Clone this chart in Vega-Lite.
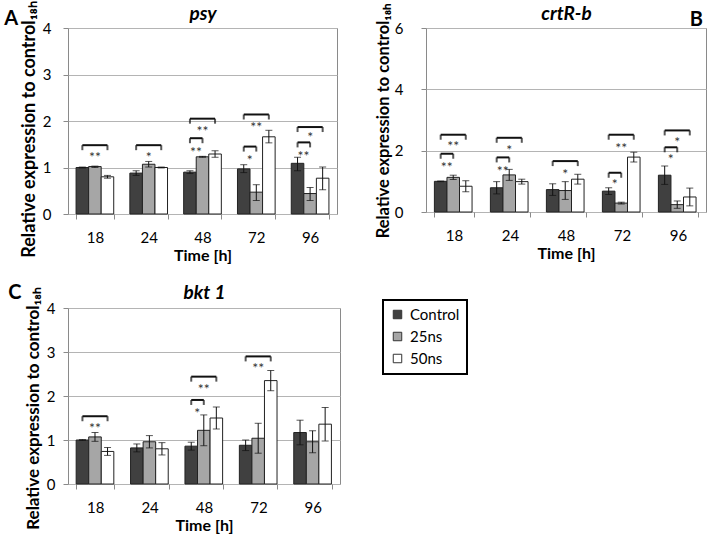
{
  "$schema": "https://vega.github.io/schema/vega-lite/v6.json",
  "padding": {"left": 3, "top": 0, "right": 0, "bottom": 0},
  "datasets": {
    "bars": [
      {"gene": "psy", "time": "18", "group": "Control", "mean": 1.00, "lo": 0.99, "hi": 1.01},
      {"gene": "psy", "time": "18", "group": "25ns", "mean": 1.02, "lo": 1.00, "hi": 1.03},
      {"gene": "psy", "time": "18", "group": "50ns", "mean": 0.80, "lo": 0.77, "hi": 0.83},
      {"gene": "psy", "time": "24", "group": "Control", "mean": 0.88, "lo": 0.83, "hi": 0.93},
      {"gene": "psy", "time": "24", "group": "25ns", "mean": 1.07, "lo": 1.01, "hi": 1.13},
      {"gene": "psy", "time": "24", "group": "50ns", "mean": 1.00, "lo": 0.99, "hi": 1.01},
      {"gene": "psy", "time": "48", "group": "Control", "mean": 0.90, "lo": 0.87, "hi": 0.93},
      {"gene": "psy", "time": "48", "group": "25ns", "mean": 1.23, "lo": 1.22, "hi": 1.24},
      {"gene": "psy", "time": "48", "group": "50ns", "mean": 1.29, "lo": 1.22, "hi": 1.36},
      {"gene": "psy", "time": "72", "group": "Control", "mean": 0.97, "lo": 0.89, "hi": 1.06},
      {"gene": "psy", "time": "72", "group": "25ns", "mean": 0.47, "lo": 0.29, "hi": 0.63},
      {"gene": "psy", "time": "72", "group": "50ns", "mean": 1.66, "lo": 1.53, "hi": 1.80},
      {"gene": "psy", "time": "96", "group": "Control", "mean": 1.09, "lo": 0.93, "hi": 1.22},
      {"gene": "psy", "time": "96", "group": "25ns", "mean": 0.44, "lo": 0.29, "hi": 0.57},
      {"gene": "psy", "time": "96", "group": "50ns", "mean": 0.77, "lo": 0.52, "hi": 1.01},
      {"gene": "crtR-b", "time": "18", "group": "Control", "mean": 1.00, "lo": 0.99, "hi": 1.01},
      {"gene": "crtR-b", "time": "18", "group": "25ns", "mean": 1.13, "lo": 1.06, "hi": 1.20},
      {"gene": "crtR-b", "time": "18", "group": "50ns", "mean": 0.84, "lo": 0.66, "hi": 1.02},
      {"gene": "crtR-b", "time": "24", "group": "Control", "mean": 0.79, "lo": 0.59, "hi": 0.99},
      {"gene": "crtR-b", "time": "24", "group": "25ns", "mean": 1.21, "lo": 1.03, "hi": 1.39},
      {"gene": "crtR-b", "time": "24", "group": "50ns", "mean": 0.99, "lo": 0.91, "hi": 1.07},
      {"gene": "crtR-b", "time": "48", "group": "Control", "mean": 0.73, "lo": 0.54, "hi": 0.92},
      {"gene": "crtR-b", "time": "48", "group": "25ns", "mean": 0.70, "lo": 0.41, "hi": 0.99},
      {"gene": "crtR-b", "time": "48", "group": "50ns", "mean": 1.07, "lo": 0.91, "hi": 1.23},
      {"gene": "crtR-b", "time": "72", "group": "Control", "mean": 0.68, "lo": 0.57, "hi": 0.79},
      {"gene": "crtR-b", "time": "72", "group": "25ns", "mean": 0.29, "lo": 0.26, "hi": 0.32},
      {"gene": "crtR-b", "time": "72", "group": "50ns", "mean": 1.79, "lo": 1.63, "hi": 1.95},
      {"gene": "crtR-b", "time": "96", "group": "Control", "mean": 1.20, "lo": 0.90, "hi": 1.50},
      {"gene": "crtR-b", "time": "96", "group": "25ns", "mean": 0.24, "lo": 0.12, "hi": 0.36},
      {"gene": "crtR-b", "time": "96", "group": "50ns", "mean": 0.49, "lo": 0.20, "hi": 0.78},
      {"gene": "bkt 1", "time": "18", "group": "Control", "mean": 1.00, "lo": 0.99, "hi": 1.01},
      {"gene": "bkt 1", "time": "18", "group": "25ns", "mean": 1.07, "lo": 0.97, "hi": 1.17},
      {"gene": "bkt 1", "time": "18", "group": "50ns", "mean": 0.74, "lo": 0.65, "hi": 0.83},
      {"gene": "bkt 1", "time": "24", "group": "Control", "mean": 0.82, "lo": 0.73, "hi": 0.91},
      {"gene": "bkt 1", "time": "24", "group": "25ns", "mean": 0.96, "lo": 0.82, "hi": 1.10},
      {"gene": "bkt 1", "time": "24", "group": "50ns", "mean": 0.80, "lo": 0.66, "hi": 0.94},
      {"gene": "bkt 1", "time": "48", "group": "Control", "mean": 0.86, "lo": 0.77, "hi": 0.95},
      {"gene": "bkt 1", "time": "48", "group": "25ns", "mean": 1.22, "lo": 0.87, "hi": 1.57},
      {"gene": "bkt 1", "time": "48", "group": "50ns", "mean": 1.50, "lo": 1.25, "hi": 1.75},
      {"gene": "bkt 1", "time": "72", "group": "Control", "mean": 0.88, "lo": 0.76, "hi": 1.00},
      {"gene": "bkt 1", "time": "72", "group": "25ns", "mean": 1.04, "lo": 0.70, "hi": 1.38},
      {"gene": "bkt 1", "time": "72", "group": "50ns", "mean": 2.35, "lo": 2.12, "hi": 2.58},
      {"gene": "bkt 1", "time": "96", "group": "Control", "mean": 1.17, "lo": 0.89, "hi": 1.45},
      {"gene": "bkt 1", "time": "96", "group": "25ns", "mean": 0.96, "lo": 0.71, "hi": 1.21},
      {"gene": "bkt 1", "time": "96", "group": "50ns", "mean": 1.36, "lo": 0.98, "hi": 1.74}
    ],
    "brackets": [
      {"gene": "psy", "time": "18", "id": "p1", "group": "Control", "y": 1.48},
      {"gene": "psy", "time": "18", "id": "p1", "group": "50ns", "y": 1.48},
      {"gene": "psy", "time": "24", "id": "p2", "group": "Control", "y": 1.48},
      {"gene": "psy", "time": "24", "id": "p2", "group": "50ns", "y": 1.48},
      {"gene": "psy", "time": "48", "id": "p3", "group": "Control", "y": 1.63},
      {"gene": "psy", "time": "48", "id": "p3", "group": "25ns", "y": 1.63},
      {"gene": "psy", "time": "48", "id": "p4", "group": "Control", "y": 2.05},
      {"gene": "psy", "time": "48", "id": "p4", "group": "50ns", "y": 2.05},
      {"gene": "psy", "time": "72", "id": "p5", "group": "Control", "y": 1.45},
      {"gene": "psy", "time": "72", "id": "p5", "group": "25ns", "y": 1.45},
      {"gene": "psy", "time": "72", "id": "p6", "group": "Control", "y": 2.14},
      {"gene": "psy", "time": "72", "id": "p6", "group": "50ns", "y": 2.14},
      {"gene": "psy", "time": "96", "id": "p7", "group": "Control", "y": 1.54},
      {"gene": "psy", "time": "96", "id": "p7", "group": "25ns", "y": 1.54},
      {"gene": "psy", "time": "96", "id": "p8", "group": "Control", "y": 1.87},
      {"gene": "psy", "time": "96", "id": "p8", "group": "50ns", "y": 1.87},
      {"gene": "crtR-b", "time": "18", "id": "c1", "group": "Control", "y": 1.90},
      {"gene": "crtR-b", "time": "18", "id": "c1", "group": "25ns", "y": 1.90},
      {"gene": "crtR-b", "time": "18", "id": "c2", "group": "Control", "y": 2.52},
      {"gene": "crtR-b", "time": "18", "id": "c2", "group": "50ns", "y": 2.52},
      {"gene": "crtR-b", "time": "24", "id": "c3", "group": "Control", "y": 1.78},
      {"gene": "crtR-b", "time": "24", "id": "c3", "group": "25ns", "y": 1.78},
      {"gene": "crtR-b", "time": "24", "id": "c4", "group": "Control", "y": 2.42},
      {"gene": "crtR-b", "time": "24", "id": "c4", "group": "50ns", "y": 2.42},
      {"gene": "crtR-b", "time": "48", "id": "c5", "group": "Control", "y": 1.66},
      {"gene": "crtR-b", "time": "48", "id": "c5", "group": "50ns", "y": 1.66},
      {"gene": "crtR-b", "time": "72", "id": "c6", "group": "Control", "y": 1.28},
      {"gene": "crtR-b", "time": "72", "id": "c6", "group": "25ns", "y": 1.28},
      {"gene": "crtR-b", "time": "72", "id": "c7", "group": "Control", "y": 2.52},
      {"gene": "crtR-b", "time": "72", "id": "c7", "group": "50ns", "y": 2.52},
      {"gene": "crtR-b", "time": "96", "id": "c8", "group": "Control", "y": 2.11},
      {"gene": "crtR-b", "time": "96", "id": "c8", "group": "25ns", "y": 2.11},
      {"gene": "crtR-b", "time": "96", "id": "c9", "group": "Control", "y": 2.66},
      {"gene": "crtR-b", "time": "96", "id": "c9", "group": "50ns", "y": 2.66},
      {"gene": "bkt 1", "time": "18", "id": "b1", "group": "Control", "y": 1.54},
      {"gene": "bkt 1", "time": "18", "id": "b1", "group": "50ns", "y": 1.54},
      {"gene": "bkt 1", "time": "48", "id": "b2", "group": "Control", "y": 1.91},
      {"gene": "bkt 1", "time": "48", "id": "b2", "group": "25ns", "y": 1.91},
      {"gene": "bkt 1", "time": "48", "id": "b3", "group": "Control", "y": 2.44},
      {"gene": "bkt 1", "time": "48", "id": "b3", "group": "50ns", "y": 2.44},
      {"gene": "bkt 1", "time": "72", "id": "b4", "group": "Control", "y": 2.90},
      {"gene": "bkt 1", "time": "72", "id": "b4", "group": "50ns", "y": 2.90}
    ],
    "stars": [
      {"gene": "psy", "time": "18", "label": "**", "y": 1.30, "kind": "mid", "at": "25ns"},
      {"gene": "psy", "time": "24", "label": "*", "y": 1.30, "kind": "mid", "at": "25ns"},
      {"gene": "psy", "time": "48", "label": "**", "y": 1.40, "kind": "edge", "at": "Control"},
      {"gene": "psy", "time": "48", "label": "**", "y": 1.85, "kind": "mid", "at": "25ns"},
      {"gene": "psy", "time": "72", "label": "*", "y": 1.23, "kind": "edge", "at": "Control"},
      {"gene": "psy", "time": "72", "label": "**", "y": 1.93, "kind": "mid", "at": "25ns"},
      {"gene": "psy", "time": "96", "label": "**", "y": 1.31, "kind": "edge", "at": "Control"},
      {"gene": "psy", "time": "96", "label": "*", "y": 1.71, "kind": "mid", "at": "25ns"},
      {"gene": "crtR-b", "time": "18", "label": "**", "y": 2.26, "kind": "mid", "at": "25ns"},
      {"gene": "crtR-b", "time": "18", "label": "**", "y": 1.57, "kind": "edge", "at": "Control"},
      {"gene": "crtR-b", "time": "24", "label": "*", "y": 2.11, "kind": "mid", "at": "25ns"},
      {"gene": "crtR-b", "time": "24", "label": "**", "y": 1.45, "kind": "edge", "at": "Control"},
      {"gene": "crtR-b", "time": "48", "label": "*", "y": 1.34, "kind": "mid", "at": "25ns"},
      {"gene": "crtR-b", "time": "72", "label": "**", "y": 2.20, "kind": "mid", "at": "25ns"},
      {"gene": "crtR-b", "time": "72", "label": "*", "y": 1.00, "kind": "edge", "at": "Control"},
      {"gene": "crtR-b", "time": "96", "label": "*", "y": 2.39, "kind": "mid", "at": "25ns"},
      {"gene": "crtR-b", "time": "96", "label": "*", "y": 1.82, "kind": "edge", "at": "Control"},
      {"gene": "bkt 1", "time": "18", "label": "**", "y": 1.35, "kind": "mid", "at": "25ns"},
      {"gene": "bkt 1", "time": "48", "label": "*", "y": 1.69, "kind": "edge", "at": "Control"},
      {"gene": "bkt 1", "time": "48", "label": "**", "y": 2.22, "kind": "mid", "at": "25ns"},
      {"gene": "bkt 1", "time": "72", "label": "**", "y": 2.71, "kind": "mid", "at": "25ns"}
    ]
  },
  "vconcat": [
    {
      "hconcat": [
        {
          "width": 269, "height": 186,
          "title": {"text": "A", "anchor": "start", "frame": "bounds", "offset": -28, "dx": -16},
          "resolve": {"axis": {"x": "independent"}},
          "layer": [
            {
              "data": {"name": "bars"},
              "transform": [{"filter": "datum.gene === 'psy'"}],
              "encoding": {
                "x": {"field": "time", "type": "nominal", "scale": {"domain": ["18", "24", "48", "72", "96"], "paddingInner": 0.3, "paddingOuter": 0.15}, "axis": {"title": "Time [h]"}},
                "xOffset": {"field": "group", "type": "nominal", "scale": {"domain": ["Control", "25ns", "50ns"], "paddingInner": 0, "paddingOuter": 0}}
              },
              "layer": [
                {"mark": {"type": "bar", "stroke": "#222", "strokeWidth": 1},
                 "encoding": {
                   "y": {"field": "mean", "type": "quantitative", "scale": {"domain": [0, 4]}, "axis": {"values": [0, 1, 2, 3, 4], "title": "Relative expression to control₁₈ₕ", "labelPadding": 12, "titlePadding": 4, "titleFontSize": 18, "titleY": 101}},
                   "color": {"field": "group", "type": "nominal", "scale": {"domain": ["Control", "25ns", "50ns"], "range": ["#404040", "#a6a6a6", "#ffffff"]}, "legend": {"title": null, "orient": "none", "legendX": 315, "legendY": 272}}
                 }},
                {"mark": {"type": "rule", "color": "#111", "strokeWidth": 1}, "encoding": {"y": {"field": "lo", "type": "quantitative"}, "y2": {"field": "hi"}}},
                {"mark": {"type": "tick", "color": "#111", "size": 7, "thickness": 1}, "encoding": {"y": {"field": "lo", "type": "quantitative"}}},
                {"mark": {"type": "tick", "color": "#111", "size": 7, "thickness": 1}, "encoding": {"y": {"field": "hi", "type": "quantitative"}}}
              ]
            },
            {
              "data": {"name": "brackets"},
              "transform": [{"filter": "datum.gene === 'psy'"}],
              "encoding": {
                "x": {"field": "time", "type": "nominal", "axis": {"orient": "top", "title": "psy", "labels": false, "ticks": false, "domain": false, "titleFontStyle": "italic", "titleFontSize": 19, "titlePadding": 5}},
                "xOffset": {"field": "group", "type": "nominal"},
                "y": {"field": "y", "type": "quantitative"}
              },
              "layer": [
                {"mark": {"type": "line", "color": "#111", "strokeWidth": 2}, "encoding": {"detail": {"field": "id"}}},
                {"mark": {"type": "tick", "orient": "vertical", "color": "#111", "thickness": 2, "size": 5, "yOffset": 2.5}}
              ]
            },
            {
              "data": {"name": "stars"},
              "transform": [{"filter": "datum.gene === 'psy'"}],
              "encoding": {
                "x": {"field": "time", "type": "nominal", "axis": null},
                "xOffset": {"field": "at", "type": "nominal"},
                "y": {"field": "y", "type": "quantitative"},
                "text": {"field": "label"}
              },
              "layer": [
                {"transform": [{"filter": "datum.kind === 'mid'"}], "mark": {"type": "text", "fontSize": 14, "dy": 4, "color": "#333"}},
                {"transform": [{"filter": "datum.kind === 'edge'"}], "mark": {"type": "text", "fontSize": 14, "dy": 4, "dx": 6, "color": "#333"}}
              ]
            }
          ]
        },
        {
          "width": 280, "height": 184,
          "title": {"text": "B", "anchor": "end", "frame": "bounds", "offset": -28, "dx": -3},
          "resolve": {"axis": {"x": "independent"}},
          "layer": [
            {
              "data": {"name": "bars"},
              "transform": [{"filter": "datum.gene === 'crtR-b'"}],
              "encoding": {
                "x": {"field": "time", "type": "nominal", "scale": {"domain": ["18", "24", "48", "72", "96"], "paddingInner": 0.3, "paddingOuter": 0.15}, "axis": {"title": "Time [h]"}},
                "xOffset": {"field": "group", "type": "nominal", "scale": {"domain": ["Control", "25ns", "50ns"], "paddingInner": 0, "paddingOuter": 0}}
              },
              "layer": [
                {"mark": {"type": "bar", "stroke": "#222", "strokeWidth": 1},
                 "encoding": {
                   "y": {"field": "mean", "type": "quantitative", "scale": {"domain": [0, 6]}, "axis": {"values": [0, 2, 4, 6], "title": "Relative expression to control₁₈ₕ", "labelPadding": 18, "titlePadding": 3, "titleFontSize": 16.5}},
                   "color": {"field": "group", "type": "nominal", "scale": {"domain": ["Control", "25ns", "50ns"], "range": ["#404040", "#a6a6a6", "#ffffff"]}, "legend": {"title": null, "orient": "none", "legendX": 315, "legendY": 272}}
                 }},
                {"mark": {"type": "rule", "color": "#111", "strokeWidth": 1}, "encoding": {"y": {"field": "lo", "type": "quantitative"}, "y2": {"field": "hi"}}},
                {"mark": {"type": "tick", "color": "#111", "size": 7, "thickness": 1}, "encoding": {"y": {"field": "lo", "type": "quantitative"}}},
                {"mark": {"type": "tick", "color": "#111", "size": 7, "thickness": 1}, "encoding": {"y": {"field": "hi", "type": "quantitative"}}}
              ]
            },
            {
              "data": {"name": "brackets"},
              "transform": [{"filter": "datum.gene === 'crtR-b'"}],
              "encoding": {
                "x": {"field": "time", "type": "nominal", "axis": {"orient": "top", "title": "crtR-b", "labels": false, "ticks": false, "domain": false, "titleFontStyle": "italic", "titleFontSize": 19, "titlePadding": 5}},
                "xOffset": {"field": "group", "type": "nominal"},
                "y": {"field": "y", "type": "quantitative"}
              },
              "layer": [
                {"mark": {"type": "line", "color": "#111", "strokeWidth": 2}, "encoding": {"detail": {"field": "id"}}},
                {"mark": {"type": "tick", "orient": "vertical", "color": "#111", "thickness": 2, "size": 5, "yOffset": 2.5}}
              ]
            },
            {
              "data": {"name": "stars"},
              "transform": [{"filter": "datum.gene === 'crtR-b'"}],
              "encoding": {
                "x": {"field": "time", "type": "nominal", "axis": null},
                "xOffset": {"field": "at", "type": "nominal"},
                "y": {"field": "y", "type": "quantitative"},
                "text": {"field": "label"}
              },
              "layer": [
                {"transform": [{"filter": "datum.kind === 'mid'"}], "mark": {"type": "text", "fontSize": 14, "dy": 4, "color": "#333"}},
                {"transform": [{"filter": "datum.kind === 'edge'"}], "mark": {"type": "text", "fontSize": 14, "dy": 4, "dx": 6, "color": "#333"}}
              ]
            }
          ]
        }
      ],
      "spacing": 36
    },
    {
      "hconcat": [
        {
          "width": 272, "height": 176,
          "title": {"text": "C", "anchor": "start", "frame": "bounds", "offset": -20, "dx": -16},
          "resolve": {"axis": {"x": "independent"}},
          "layer": [
            {
              "data": {"name": "bars"},
              "transform": [{"filter": "datum.gene === 'bkt 1'"}],
              "encoding": {
                "x": {"field": "time", "type": "nominal", "scale": {"domain": ["18", "24", "48", "72", "96"], "paddingInner": 0.3, "paddingOuter": 0.15}, "axis": {"title": "Time [h]"}},
                "xOffset": {"field": "group", "type": "nominal", "scale": {"domain": ["Control", "25ns", "50ns"], "paddingInner": 0, "paddingOuter": 0}}
              },
              "layer": [
                {"mark": {"type": "bar", "stroke": "#222", "strokeWidth": 1},
                 "encoding": {
                   "y": {"field": "mean", "type": "quantitative", "scale": {"domain": [0, 4]}, "axis": {"values": [0, 1, 2, 3, 4], "title": "Relative expression to control₁₈ₕ", "labelPadding": 8, "titlePadding": 4, "titleFontSize": 17, "titleY": 100}},
                   "color": {"field": "group", "type": "nominal", "scale": {"domain": ["Control", "25ns", "50ns"], "range": ["#404040", "#a6a6a6", "#ffffff"]}, "legend": {"title": null, "orient": "none", "legendX": 315, "legendY": 272}}
                 }},
                {"mark": {"type": "rule", "color": "#111", "strokeWidth": 1}, "encoding": {"y": {"field": "lo", "type": "quantitative"}, "y2": {"field": "hi"}}},
                {"mark": {"type": "tick", "color": "#111", "size": 7, "thickness": 1}, "encoding": {"y": {"field": "lo", "type": "quantitative"}}},
                {"mark": {"type": "tick", "color": "#111", "size": 7, "thickness": 1}, "encoding": {"y": {"field": "hi", "type": "quantitative"}}}
              ]
            },
            {
              "data": {"name": "brackets"},
              "transform": [{"filter": "datum.gene === 'bkt 1'"}],
              "encoding": {
                "x": {"field": "time", "type": "nominal", "axis": {"orient": "top", "title": "bkt 1", "labels": false, "ticks": false, "domain": false, "titleFontStyle": "italic", "titleFontSize": 19, "titlePadding": 6}},
                "xOffset": {"field": "group", "type": "nominal"},
                "y": {"field": "y", "type": "quantitative"}
              },
              "layer": [
                {"mark": {"type": "line", "color": "#111", "strokeWidth": 2}, "encoding": {"detail": {"field": "id"}}},
                {"mark": {"type": "tick", "orient": "vertical", "color": "#111", "thickness": 2, "size": 5, "yOffset": 2.5}}
              ]
            },
            {
              "data": {"name": "stars"},
              "transform": [{"filter": "datum.gene === 'bkt 1'"}],
              "encoding": {
                "x": {"field": "time", "type": "nominal", "axis": null},
                "xOffset": {"field": "at", "type": "nominal"},
                "y": {"field": "y", "type": "quantitative"},
                "text": {"field": "label"}
              },
              "layer": [
                {"transform": [{"filter": "datum.kind === 'mid'"}], "mark": {"type": "text", "fontSize": 14, "dy": 4, "color": "#333"}},
                {"transform": [{"filter": "datum.kind === 'edge'"}], "mark": {"type": "text", "fontSize": 14, "dy": 4, "dx": 6, "color": "#333"}}
              ]
            }
          ]
        }
      ]
    }
  ],
  "spacing": 18,
  "config": {
    "font": "Lato",
    "view": {"stroke": "#8a8a8a", "strokeWidth": 1},
    "axis": {"labelFont": "Lato", "labelFontSize": 15, "labelColor": "#000", "titleFont": "Lato", "titleFontSize": 18, "titleFontWeight": "bold", "titleColor": "#000", "gridColor": "#b4b4b4", "tickColor": "#8a8a8a", "domain": false},
    "axisX": {"tickBand": "extent", "labelAngle": 0, "grid": false, "tickSize": 5, "labelPadding": 11, "titlePadding": 2, "titleFontSize": 16},
    "axisY": {"grid": true, "tickSize": 5},
    "title": {"font": "Lato", "fontSize": 20, "fontWeight": "bold", "color": "#000"},
    "legend": {"labelFont": "Lato", "labelFontSize": 15, "labelColor": "#000", "symbolType": "square", "symbolSize": 72, "symbolStrokeColor": "#333", "symbolStrokeWidth": 1, "strokeColor": "#000", "strokeWidth": 2, "padding": 7, "rowPadding": 6, "labelOffset": 5}
  }
}
